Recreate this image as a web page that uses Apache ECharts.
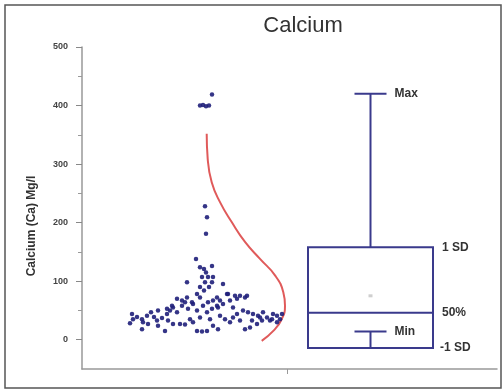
<!DOCTYPE html>
<html>
<head>
<meta charset="utf-8">
<script src="https://cdn.jsdelivr.net/npm/echarts@6/dist/echarts.min.js"></script>
<style>
  html, body { margin: 0; padding: 0; background: #fff; }
  #chart { width: 503px; height: 390px; }
</style>
</head>
<body>
<div id="chart"></div>
<script>
// ---- Data (x = horizontal jitter position, y = Calcium Mg/l) ----
const titleText = 'Calcium';
const yAxisTitle = 'Calcium (Ca) Mg/l';
const yTickValues = [0, 100, 200, 300, 400, 500];
const yMinorTickValues = [50, 150, 250, 350, 450];
const xTickValues = [205];

const outlierPoints = [
  [118, 400], [121, 401], [124, 399], [127, 400], [130, 419],
  [123, 228], [125, 209], [124, 181]
];
const upperPoints = [
  [114, 138], [118, 124], [122, 121], [130, 126],
  [105, 98], [141, 95], [120, 107], [126, 107], [131, 107],
  [123, 98], [130, 98], [118, 90], [127, 90], [122, 84], [124, 115]
];
const clusterPoints = [
  [50, 44], [55, 39], [60, 35], [65, 41], [69, 47], [72, 39], [75, 33], [80, 37],
  [85, 44], [88, 50], [91, 55], [95, 47], [100, 58], [103, 64], [106, 53], [111, 61],
  [115, 50], [118, 72], [121, 58], [125, 47], [130, 53], [135, 58], [138, 67], [141, 61],
  [145, 78], [148, 67], [151, 55], [155, 70], [158, 75], [163, 72], [166, 47], [171, 44],
  [176, 41], [181, 47], [185, 38], [190, 35], [195, 41], [200, 44],
  [48, 28], [60, 18], [83, 15], [98, 27], [103, 26], [115, 15], [120, 14], [125, 15],
  [131, 24], [136, 18], [148, 30], [158, 33], [163, 18], [168, 21], [175, 27], [180, 33],
  [188, 33], [195, 30], [198, 35],
  [51, 35], [61, 30], [66, 27], [76, 24], [86, 33], [91, 27], [108, 35], [111, 30],
  [118, 38], [128, 35], [138, 41], [143, 35], [151, 38], [155, 44], [161, 50], [170, 33],
  [178, 38], [191, 44],
  [95, 70], [100, 67], [105, 72], [110, 64], [115, 78], [131, 67], [135, 72], [146, 78],
  [153, 75], [165, 75], [126, 64], [136, 55], [85, 53], [90, 58], [76, 50]
];
const normalCurve = [
  [124.7, 352], [125.7, 309], [129.7, 269], [138, 235], [149.7, 201], [163, 167],
  [178, 138], [193, 110], [201.3, 81], [203, 58], [199.7, 35], [191.3, 15], [179.7, -2]
];
// [xCenter, min, -1 SD, median(50%), 1 SD, max, mean]
const boxStats = [288.5, 14, -14, 46, 158, 420, 75];
const boxLabels = ['Max', '1 SD', '50%', 'Min', '-1 SD'];
const boxWidth = 125;
const capWidth = 32;

// ---- Styles ----
const navy = '#1f1f7a';
const boxColor = '#3a3a8c';
const textColor = '#333';
const fontFam = '"Liberation Sans", Arial, sans-serif';

function renderBox(params, api) {
  const xc = api.value(0);
  const pMin = api.coord([xc, api.value(1)]);
  const pLo = api.coord([xc, api.value(2)]);
  const pMed = api.coord([xc, api.value(3)]);
  const pHi = api.coord([xc, api.value(4)]);
  const pMax = api.coord([xc, api.value(5)]);
  const pMean = api.coord([xc, api.value(6)]);
  const bw = api.size([boxWidth, 0])[0];
  const cw = api.size([capWidth, 0])[0];
  const x = pMed[0];
  const left = x - bw / 2, right = x + bw / 2;
  const lineStyle = { stroke: boxColor, lineWidth: 2, fill: null };
  const font = 'bold 12px ' + fontFam;
  const txt = (t, tx, ty) => ({
    type: 'text',
    style: { text: t, x: tx, y: ty, font: font, fill: textColor, align: 'left', verticalAlign: 'middle' }
  });
  return {
    type: 'group',
    children: [
      { type: 'line', shape: { x1: x, y1: pHi[1], x2: x, y2: pMax[1] }, style: lineStyle },
      { type: 'line', shape: { x1: x - cw / 2, y1: pMax[1], x2: x + cw / 2, y2: pMax[1] }, style: lineStyle },
      { type: 'line', shape: { x1: x, y1: pLo[1], x2: x, y2: pMin[1] }, style: lineStyle },
      { type: 'line', shape: { x1: x - cw / 2, y1: pMin[1], x2: x + cw / 2, y2: pMin[1] }, style: lineStyle },
      { type: 'rect', shape: { x: left, y: pHi[1], width: bw, height: pLo[1] - pHi[1] }, style: { stroke: boxColor, lineWidth: 2, fill: 'rgba(0,0,0,0)' } },
      { type: 'line', shape: { x1: left, y1: pMed[1], x2: right, y2: pMed[1] }, style: lineStyle },
      { type: 'rect', shape: { x: pMean[0] - 2, y: pMean[1] - 1.5, width: 4, height: 3 }, style: { fill: '#cfcfcf' } },
      txt(boxLabels[0], x + cw / 2 + 8, pMax[1]),
      txt(boxLabels[1], right + 9, pHi[1]),
      txt(boxLabels[2], right + 9, pMed[1]),
      txt(boxLabels[3], x + cw / 2 + 8, pMin[1]),
      txt(boxLabels[4], right + 7, pLo[1])
    ]
  };
}

const chart = echarts.init(document.getElementById('chart'), null, { renderer: 'canvas' });
chart.setOption({
  animation: false,
  backgroundColor: '#fff',
  title: {
    text: titleText, left: 298, top: 10, textAlign: 'center',
    textStyle: { fontSize: 22, fontWeight: 'normal', color: textColor, fontFamily: fontFam }
  },
  graphic: [
    { type: 'rect', shape: { x: 5, y: 5, width: 496, height: 383 }, style: { stroke: '#555', lineWidth: 1.5, fill: null }, silent: true },
    { type: 'text', x: 32, y: 226, rotation: Math.PI / 2,
      style: { text: yAxisTitle, font: 'bold 12px ' + fontFam, fill: textColor, align: 'center', verticalAlign: 'middle' } }
  ],
  grid: { left: 82, right: 6, top: 47, bottom: 21, containLabel: false },
  xAxis: {
    type: 'value', min: 0, max: 415,
    axisLine: { show: true, onZero: false, lineStyle: { color: '#999', width: 1.5 } },
    axisTick: { show: true, customValues: xTickValues, length: 5, lineStyle: { color: '#999' } },
    axisLabel: { show: false },
    splitLine: { show: false }
  },
  yAxis: [
    {
      type: 'value', min: -50, max: 500, interval: 50, position: 'left',
      axisLine: { show: true, onZero: false, lineStyle: { color: '#999', width: 1.5 } },
      axisTick: { show: true, customValues: yTickValues, length: 6, lineStyle: { color: '#888' } },
      axisLabel: { customValues: yTickValues, margin: 14, fontSize: 9, fontWeight: 'bold', color: '#444', fontFamily: fontFam },
      splitLine: { show: false }
    },
    {
      type: 'value', min: -50, max: 500, interval: 50, position: 'left', offset: 0,
      axisLine: { show: false, onZero: false },
      axisTick: { show: true, customValues: yMinorTickValues, length: 4, lineStyle: { color: '#999' } },
      axisLabel: { show: false },
      splitLine: { show: false }
    }
  ],
  series: [
    {
      type: 'line', data: normalCurve, smooth: true, symbol: 'none',
      lineStyle: { color: '#e05a5a', width: 2 }, z: 2
    },
    {
      type: 'scatter', data: outlierPoints.concat(upperPoints, clusterPoints),
      symbolSize: 4.5, itemStyle: { color: navy, opacity: 0.9 }, z: 3
    },
    {
      type: 'custom', data: [boxStats], renderItem: renderBox,
      encode: { x: 0, y: [1, 2, 3, 4, 5] }, z: 4
    }
  ]
});
</script>
</body>
</html>
